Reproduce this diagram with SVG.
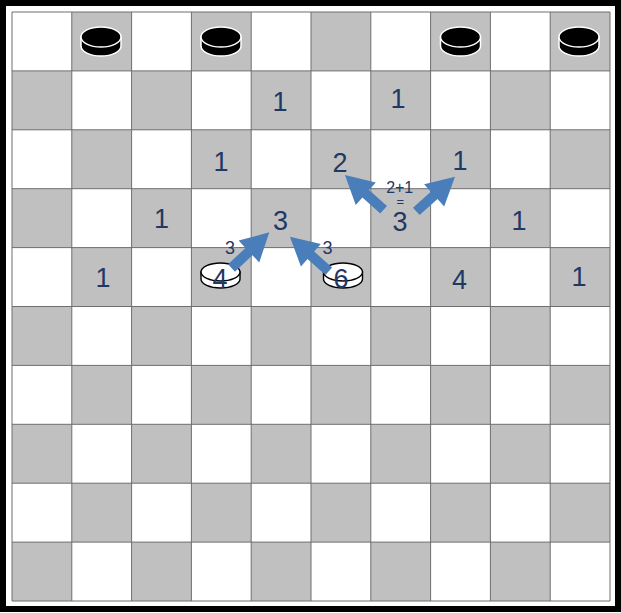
<svg xmlns="http://www.w3.org/2000/svg" xmlns:xlink="http://www.w3.org/1999/xlink" width="621" height="613" viewBox="0 0 621 613">
<style>
.n{font-family:"Liberation Sans",Arial,sans-serif;font-size:27px;fill:#1f3864;text-anchor:middle}
.s{font-family:"Liberation Sans",Arial,sans-serif;font-size:18px;fill:#1f3864;text-anchor:middle}
.arrow{fill:#4a7ebb}
.grid{fill:none;stroke:#6e6e6e;stroke-width:1}
</style>
<defs>
<pattern id="checker" patternUnits="userSpaceOnUse" x="12" y="12" width="119.6" height="117.8">
<rect x="0" y="0" width="119.6" height="117.8" fill="#ffffff"/>
<rect x="59.8" y="0" width="59.8" height="58.9" fill="#c0c0c0"/>
<rect x="0" y="58.9" width="59.8" height="58.9" fill="#c0c0c0"/>
</pattern>
<g id="blackPiece">
<path d="M-20,-4.5 L-20,4.5 A20,10 0 0 0 20,4.5 L20,-4.5 Z" fill="#000" stroke="#fff" stroke-width="1.5"/>
<ellipse cx="0" cy="-4.5" rx="20" ry="10" fill="#000" stroke="#fff" stroke-width="1.5"/>
</g>
<g id="whitePiece">
<path d="M-19.5,-3.5 L-19.5,3.5 A19.5,9 0 0 0 19.5,3.5 L19.5,-3.5 Z" fill="#fff" stroke="#000" stroke-width="1.4"/>
<ellipse cx="0" cy="-3.5" rx="19.5" ry="9" fill="#fff" stroke="#000" stroke-width="1.4"/>
</g>
<polygon id="arr" class="arrow" points="0,-5 24,-5 24,-15 52,0 24,15 24,5 0,5"/>
</defs>
<rect x="3" y="3" width="615" height="606" fill="#fff" stroke="#000" stroke-width="6"/>
<g id="board">
<rect x="12" y="12" width="598" height="589" fill="url(#checker)"/>
<path class="grid" d="M12,12V601M71.8,12V601M131.6,12V601M191.4,12V601M251.2,12V601M311,12V601M370.8,12V601M430.6,12V601M490.4,12V601M550.2,12V601M610,12V601M12,12H610M12,70.9H610M12,129.8H610M12,188.7H610M12,247.6H610M12,306.5H610M12,365.4H610M12,424.3H610M12,483.2H610M12,542.1H610M12,601H610"/>
</g>
<g id="black-pieces">
<use href="#blackPiece" xlink:href="#blackPiece" x="101" y="41.5"/>
<use href="#blackPiece" xlink:href="#blackPiece" x="221" y="41.5"/>
<use href="#blackPiece" xlink:href="#blackPiece" x="460.5" y="41.5"/>
<use href="#blackPiece" xlink:href="#blackPiece" x="579" y="41.5"/>
</g>
<g id="white-piece-4"><use href="#whitePiece" xlink:href="#whitePiece" x="220.5" y="275.5"/></g>
<g id="white-piece-6"><use href="#whitePiece" xlink:href="#whitePiece" x="343" y="275.5"/></g>
<g id="connectors">
<use href="#arr" xlink:href="#arr" transform="translate(231.5,268) rotate(-43.4)"/>
<use href="#arr" xlink:href="#arr" transform="translate(328.8,271.2) rotate(-138.4)"/>
<use href="#arr" xlink:href="#arr" transform="translate(383.6,209.8) rotate(-138)"/>
<use href="#arr" xlink:href="#arr" transform="translate(416.3,211.4) rotate(-41.9)"/>
<text class="s" x="230" y="254">3</text>
<text class="s" x="327.5" y="254">3</text>
</g>
<g id="labels">
<g id="r1c4"><text class="n" x="280" y="111">1</text></g>
<g id="r1c6"><text class="n" x="398" y="108">1</text></g>
<g id="r2c3"><text class="n" x="221" y="170.5">1</text></g>
<g id="r2c5"><text class="n" x="340" y="172">2</text></g>
<g id="r2c7"><text class="n" x="460" y="170">1</text></g>
<g id="r3c2"><text class="n" x="161.5" y="228">1</text></g>
<g id="r3c4"><text class="n" x="280.5" y="230">3</text></g>
<g id="r3c6"><text class="s" style="font-size:16px" x="399.7" y="192.5">2+1</text><text class="s" style="font-size:13px" x="400.3" y="205.5">=</text><text class="n" x="400" y="231">3</text></g>
<g id="r3c8"><text class="n" x="519" y="230">1</text></g>
<g id="r4c1"><text class="n" x="103" y="287">1</text></g>
<g id="r4c3"><text class="n" x="220" y="288">4</text></g>
<g id="r4c5"><text class="n" x="341" y="288">6</text></g>
<g id="r4c7"><text class="n" x="459.5" y="289">4</text></g>
<g id="r4c9"><text class="n" x="579" y="286">1</text></g>
</g>
</svg>
